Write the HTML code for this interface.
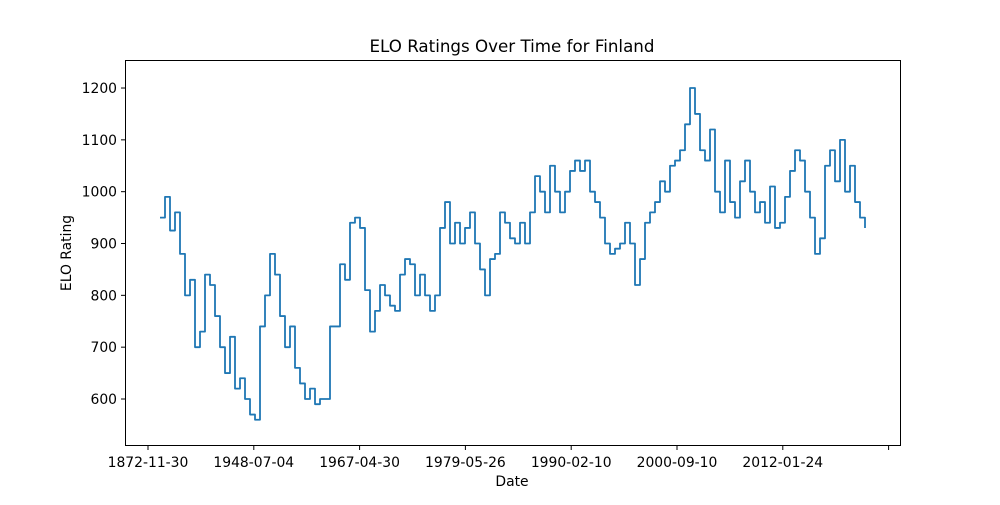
<!DOCTYPE html>
<html><head><meta charset="utf-8"><style>
body{margin:0;background:#fff;font-family:"Liberation Sans","DejaVu Sans",sans-serif}
svg text{font-family:"DejaVu Sans","Liberation Sans",sans-serif;fill:#000}
</style></head><body>
<svg id="chart" width="1000" height="500" viewBox="0 0 1000 500" xmlns="http://www.w3.org/2000/svg">
<rect width="1000" height="500" fill="#fff"/>
<text x="512" y="52" font-size="16.7" text-anchor="middle">ELO Ratings Over Time for Finland</text>
<g id="plot"></g>
<rect x="125.5" y="60.5" width="775" height="385" fill="none" stroke="#000" stroke-width="1"/>
<text x="512" y="486" font-size="13.9" text-anchor="middle">Date</text>
<text x="71" y="253" font-size="13.9" text-anchor="middle" transform="rotate(-90 71 253)">ELO Rating</text>
</svg>
<script>
const values=[950,990,925,960,880,800,830,700,730,840,820,760,700,650,720,620,640,600,570,560,740,800,880,840,760,700,740,660,630,600,620,590,600,600,740,740,860,830,940,950,930,810,730,770,820,800,780,770,840,870,860,800,840,800,770,800,930,980,900,940,900,930,960,900,850,800,870,880,960,940,910,900,940,900,960,1030,1000,960,1050,1000,960,1000,1040,1060,1040,1060,1000,980,950,900,880,890,900,940,900,820,870,940,960,980,1020,1000,1050,1060,1080,1130,1200,1150,1080,1060,1120,1000,960,1060,980,950,1020,1060,1000,960,980,940,1010,930,940,990,1040,1080,1060,1000,950,880,910,1050,1080,1020,1100,1000,1050,980,950,930];
const xTickIdx=[-2.4,18.76,39.92,61.08,82.24,103.4,124.56,145.72];
const xTickLabels=["1872-11-30","1948-07-04","1967-04-30","1979-05-26","1990-02-10","2000-09-10","2012-01-24",""];
const yTicks=[600,700,800,900,1000,1100,1200];
const NS="http://www.w3.org/2000/svg";
const g=document.getElementById('plot');
const x=i=>160+i*(705/(values.length-1));
const y=v=>399-(v-600)*0.5183;
function mk(t,a){const e=document.createElementNS(NS,t);for(const k in a)e.setAttribute(k,a[k]);g.appendChild(e);return e;}
yTicks.forEach(v=>{
  const l=mk('line',{x1:121,x2:125,y1:y(v),y2:y(v),stroke:'#000'});
  
  
  const t=mk('text',{x:117,y:y(v)+5,'font-size':13.9,'text-anchor':'end'});t.textContent=v;
  
  
});
xTickIdx.forEach((ix,k)=>{
  const l=mk('line',{x1:x(ix),x2:x(ix),y1:446,y2:450,stroke:'#000'});
  
  
  const t=mk('text',{x:x(ix),y:467,'font-size':13.9,'text-anchor':'middle'});t.textContent=xTickLabels[k];
  
  
});
let d='M'+x(0)+','+y(values[0]);
for(let i=1;i<values.length;i++){d+=' L'+x(i)+','+y(values[i-1])+' L'+x(i)+','+y(values[i]);}
const p=mk('path',{d:d,fill:'none',stroke:'#1f77b4','stroke-width':1.8,'stroke-linejoin':'round'});


</script>
</body></html>
